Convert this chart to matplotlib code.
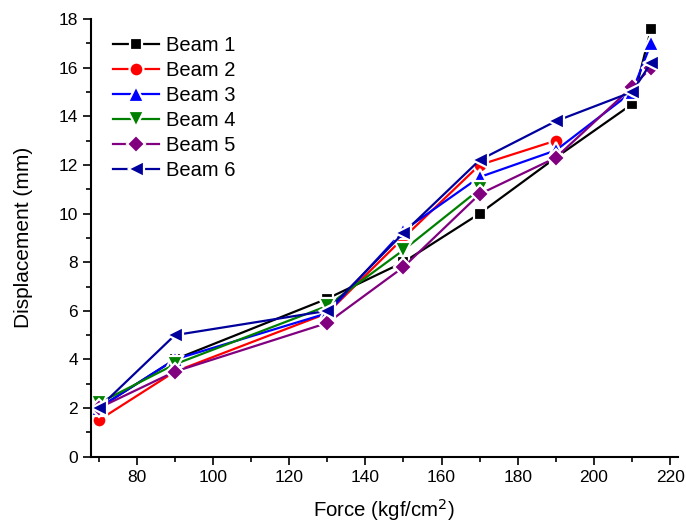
import matplotlib
matplotlib.use("Agg")
import matplotlib.pyplot as plt
from matplotlib.ticker import MultipleLocator

plt.rcParams['font.family'] = ['Liberation Sans', 'DejaVu Sans']

# force values (kgf/cm^2) and displacement (mm) per beam
force_full = [70, 90, 130, 150, 170, 190, 210, 215]
beam1 = [2.0, 4.0, 6.5, 8.0, 10.0, 12.3, 14.5, 17.6]
beam2 = [1.5, 3.5, 5.9, 9.0, 12.0, 13.0]
beam3 = [2.0, 4.0, 5.9, 9.3, 11.5, 12.6, 15.0, 17.0]
beam4 = [2.2, 3.8, 6.2, 8.5, 11.0]
beam5 = [2.0, 3.5, 5.5, 7.8, 10.8, 12.3, 15.2, 16.0]
beam6 = [2.0, 5.0, 6.0, 9.2, 12.2, 13.8, 15.0, 16.2]

labels = ["Beam 1", "Beam 2", "Beam 3", "Beam 4", "Beam 5", "Beam 6"]
series = [beam1, beam2, beam3, beam4, beam5, beam6]
colors = ["#000000", "#FF0000", "#0000FF", "#008000", "#800080", "#00009C"]
markers = ["s", "o", "^", "v", "D", "<"]
msizes = [8.6, 10, 11, 11, 9.6, 11]

fig = plt.figure(figsize=(6.86, 5.24), dpi=100)
ax = fig.add_axes([0.1327, 0.1284, 0.8553, 0.8353])

for lab, y, c, m, ms in zip(labels, series, colors, markers, msizes):
    ax.plot(force_full[:len(y)], y, color=c, lw=1.6, marker=m, ms=ms,
            mfc=c, mec="white", mew=1.6, label=lab)

ax.set_xlim(68, 222)
ax.set_ylim(0, 18)
ax.xaxis.set_major_locator(MultipleLocator(20))
ax.xaxis.set_minor_locator(MultipleLocator(10))
ax.yaxis.set_major_locator(MultipleLocator(2))
ax.yaxis.set_minor_locator(MultipleLocator(1))
ax.tick_params(which="major", direction="out", length=6, width=1.2, labelsize=12.5)
ax.tick_params(which="minor", direction="out", length=3.5, width=1.2)

for s in ["top", "right"]:
    ax.spines[s].set_visible(False)
for s in ["left", "bottom"]:
    ax.spines[s].set_linewidth(1.5)

ax.set_xlabel("Force (kgf/cm$^2$)", fontsize=14.7, labelpad=9)
ax.set_ylabel("Displacement (mm)", fontsize=15, labelpad=18)

ax.legend(loc="upper left", bbox_to_anchor=(0.037, 0.962), frameon=False,
          fontsize=14.5, handlelength=2.3, handletextpad=0.35,
          labelspacing=0.3, borderpad=0, borderaxespad=0)

fig.savefig("out.png", dpi=100)
